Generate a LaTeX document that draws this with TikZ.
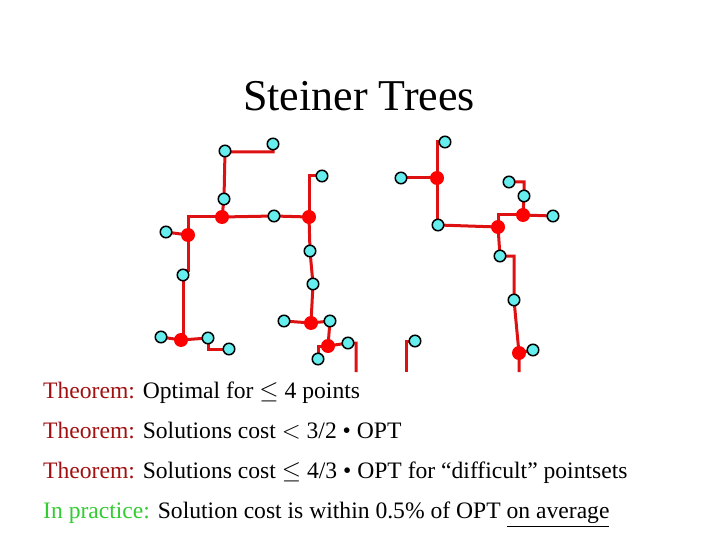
\documentclass[tikz,border=0pt]{standalone}
\usepackage{fontspec}
\setmainfont{Liberation Serif}
\usepackage{amssymb}
\pgfdeclarelayer{bg}
\pgfsetlayers{bg,main}
\definecolor{thm}{HTML}{A01010}
\definecolor{prac}{HTML}{33CC33}
\definecolor{term}{HTML}{66EEEE}
\definecolor{edge}{HTML}{DD1111}
\tikzset{
  cy/.style={circle,draw=black,line width=1.5pt,fill=term,inner sep=0pt,minimum size=11.5pt},
  st/.style={circle,fill=red,inner sep=0pt,minimum size=14pt},
  ed/.style={draw=edge,line width=3pt},
  txt/.style={anchor=base west,inner sep=0pt,font=\fontsize{23.6}{27}\selectfont}
}
\begin{document}
\begin{tikzpicture}[x=1pt,y=-1pt]
\useasboundingbox (0,0) rectangle (720,540);
\node[font=\fontsize{44}{50}\selectfont] (title) at (359,96) {Steiner Trees};
% left trees
\node[cy] (a1) at (225,151) {};
\node[cy] (a2) at (273,144) {};
\node[cy] (a3) at (224,199) {};
\node[cy] (a4) at (274,216) {};
\node[cy] (a5) at (166,232) {};
\node[cy] (a6) at (183,275) {};
\node[cy] (a7) at (161,337) {};
\node[cy] (a8) at (208,338) {};
\node[cy] (a9) at (229,349) {};
\node[cy] (a10) at (322,176) {};
\node[cy] (a11) at (310,251) {};
\node[cy] (a12) at (313,284) {};
\node[cy] (a13) at (284,321) {};
\node[cy] (a14) at (330,321) {};
\node[cy] (a15) at (318,359) {};
\node[cy] (a16) at (348,343) {};
\node[cy] (a17) at (415,341) {};
\node[st] (s1) at (222,217) {};
\node[st] (s2) at (309,217) {};
\node[st] (s3) at (188,235) {};
\node[st] (s4) at (181,340) {};
\node[st] (s5) at (311,323) {};
\node[st] (s6) at (328,346) {};
% right tree
\node[cy] (b1) at (445,142) {};
\node[cy] (b2) at (401,178) {};
\node[cy] (b3) at (438,225) {};
\node[cy] (b4) at (509,182) {};
\node[cy] (b5) at (524,196) {};
\node[cy] (b6) at (553,216) {};
\node[cy] (b7) at (500,256) {};
\node[cy] (b8) at (514,300) {};
\node[cy] (b9) at (533,350) {};
\node[st] (t1) at (437,178) {};
\node[st] (t2) at (498,227) {};
\node[st] (t3) at (523,215) {};
\node[st] (t4) at (519,353) {};
\coordinate (e1) at (356,372);
\coordinate (e2) at (406,372);
\coordinate (e3) at (519,372);
\begin{pgfonlayer}{bg}
\draw[ed] (a2.center) -- ++(0,8) -| (a1.center) -- (a3.center) -- (s1.center);
\draw[ed] (s1.center) -- (a4.center) -- (s2.center);
\draw[ed] (s1.center) -| (s3.center);
\draw[ed] (a5.center) -- (s3.center);
\draw[ed] (s3.center) -- (188,270) -| (a6.center) -- (a6.center |- s4.center) -- (s4.center);
\draw[ed] (a7.center) -- (s4.center) -- (a8.center);
\draw[ed] (a8.center) |- (a9.center);
\draw[ed] (s2.center) |- (a10.center);
\draw[ed] (s2.center) -- (a11.center) -- (a12.center) -- (s5.center);
\draw[ed] (a13.center) -- (s5.center) -- (a14.center) -- (s6.center);
\draw[ed] (s6.center) -- (a16.center) -| (e1);
\draw[ed] (s6.center) -| (a15.center);
\draw[ed] (a17.center) -| (e2);
\draw[ed] (b1.center) -| (t1.center) -- (b3.center -| t1.center) -- (b3.center);
\draw[ed] (b2.center) -- (t1.center);
\draw[ed] (b3.center) -- (t2.center);
\draw[ed] (t2.center) |- (t3.center);
\draw[ed] (t3.center) -- (b6.center);
\draw[ed] (t3.center) -- (b5.center) |- (b4.center);
\draw[ed] (t2.center) -- (b7.center) -| (b8.center) -- (t4.center) -- (e3);
\draw[ed] (t4.center) -- (b9.center);
\end{pgfonlayer}
% text
\node[txt] (l1) at (43,398) {\textcolor{thm}{Theorem:} Optimal for $\leq$ 4 points};
\node[txt] (l2) at (43,438) {\textcolor{thm}{Theorem:} Solutions cost $<$ 3/2 • OPT};
\node[txt] (l3) at (43,478) {\textcolor{thm}{Theorem:} Solutions cost $\leq$ 4/3 • OPT for “difficult” pointsets};
\node[txt] (l4) at (43,518) {\textcolor{prac}{In practice:} Solution cost is within 0.5\% of OPT \underline{on average}};
\end{tikzpicture}
\end{document}
